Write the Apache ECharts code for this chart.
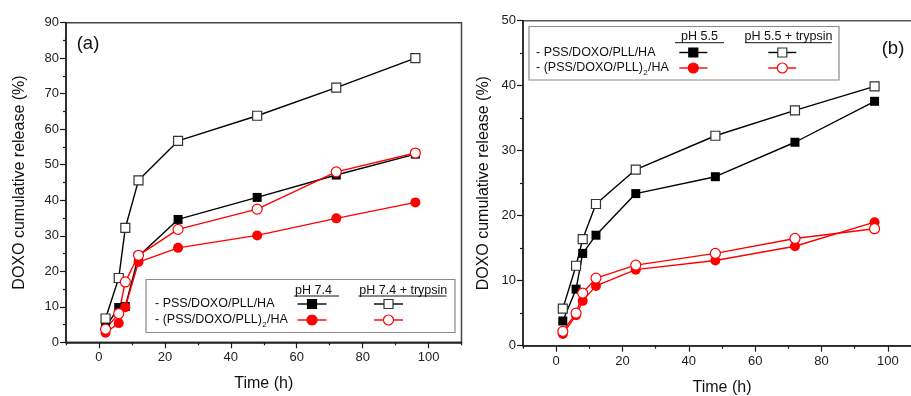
<!DOCTYPE html>
<html>
<head>
<meta charset="utf-8">
<script src="https://cdn.jsdelivr.net/npm/echarts@6/dist/echarts.min.js"></script>
<style>
html,body{margin:0;padding:0;background:#fff;}
#chart{width:911px;height:396px;}
</style>
</head>
<body>
<div id="chart"></div>
<script>
// ---------- DATA ----------
var timeH = [2, 6, 8, 12, 24, 48, 72, 96];

// (a) pH 7.4
var aSingle74      = [4.3, 9.8, 10.1, 24.2, 34.6, 40.8, 47.1, 53.0];
var aSingle74Tryp  = [6.7, 18.1, 32.2, 45.6, 56.7, 63.8, 71.7, 80.0];
var aDouble74      = [2.7, 5.4, 9.9, 22.6, 26.6, 30.1, 34.9, 39.4];
var aDouble74Tryp  = [3.7, 8.1, 17.0, 24.5, 31.8, 37.5, 48.0, 53.3];

// (b) pH 5.5
var bSingle55      = [3.8, 8.7, 14.2, 17.0, 23.4, 26.0, 31.3, 37.6];
var bSingle55Tryp  = [5.7, 12.3, 16.4, 21.8, 27.1, 32.3, 36.2, 39.9];
var bDouble55      = [1.8, 4.7, 6.9, 9.2, 11.7, 13.1, 15.3, 19.0];
var bDouble55Tryp  = [2.2, 5.0, 8.1, 10.4, 12.4, 14.2, 16.5, 18.0];

var xTicks = [0, 20, 40, 60, 80, 100];
var yTicksA = [0, 10, 20, 30, 40, 50, 60, 70, 80, 90];
var yTicksB = [0, 10, 20, 30, 40, 50];

var seriesNames = ['- PSS/DOXO/PLL/HA', '- (PSS/DOXO/PLL)', '2', '/HA'];
var headersA = ['pH 7.4', 'pH 7.4 + trypsin'];
var headersB = ['pH 5.5', 'pH 5.5 + trypsin'];
var panelLabels = ['(a)', '(b)'];
var xTitle = 'Time (h)';
var yTitle = 'DOXO cumulative release (%)';

// ---------- HELPERS ----------
var FONT = '"Liberation Sans", Arial, sans-serif';
var AX = '#1a1a1a';
var RED = '#ff0000';

function pairs(ys){ return timeH.map(function(t,i){ return [t, ys[i]]; }); }

var measureCtx = document.createElement('canvas').getContext('2d');
function textW(str, size){ measureCtx.font = size + 'px ' + FONT; return measureCtx.measureText(str).width; }

function mkSeries(name, ys, xi, yi, kind){
  var filled = kind.filled, color = kind.color, sym = kind.sym;
  return {
    type: 'line', name: name, xAxisIndex: xi, yAxisIndex: yi,
    data: pairs(ys), symbol: sym, symbolSize: sym === 'rect' ? 9 : 10,
    lineStyle: { color: color, width: 1.4 },
    itemStyle: filled ? { color: color, borderColor: color, borderWidth: 0 }
                      : { color: '#fff', borderColor: color === RED ? RED : '#333', borderWidth: 1.2 },
    emphasis: { disabled: true }, animation: false, z: 3
  };
}

function xAxesFor(gi, gap){
  return [
    { type:'value', gridIndex: gi, position:'bottom', min:-10, max:110, interval:20,
      axisLine:{ show:true, onZero:false, lineStyle:{ color:AX, width:1.5 } },
      axisTick:{ show:true, inside:false, length:3, lineStyle:{ color:AX, width:1.2 } },
      minorTick:{ show:true, splitNumber:2, length:6, lineStyle:{ color:AX, width:1.2 } },
      axisLabel:{ show:false }, splitLine:{ show:false }, minorSplitLine:{ show:false },
      name: xTitle, nameLocation:'middle', nameGap: gap,
      nameTextStyle:{ fontFamily: FONT, fontSize: 16, color: '#111' } },
    { type:'value', gridIndex: gi, position:'bottom', min:-10, max:110, interval:10,
      axisLine:{ show:false, onZero:false }, axisTick:{ show:false }, splitLine:{ show:false },
      axisLabel:{ show:true, margin: 9, fontFamily: FONT, fontSize: 13, color: '#222',
        formatter: function(v){ return xTicks.indexOf(v) >= 0 ? String(v) : ''; } } }
  ];
}

function yAxisFor(gi, max, ticks, gap){
  return { type:'value', gridIndex: gi, min: ticks[0], max: max, interval: ticks[1]-ticks[0],
    axisLine:{ show:true, onZero:false, lineStyle:{ color:AX, width:1.5 } },
    axisTick:{ show:true, inside:false, length:6, lineStyle:{ color:AX, width:1.2 } },
    minorTick:{ show:true, splitNumber:2, length:3, lineStyle:{ color:AX, width:1.2 } },
    axisLabel:{ margin: 7, fontFamily: FONT, fontSize: 13, color:'#222' },
    splitLine:{ show:false },
    name: yTitle, nameLocation:'middle', nameGap: gap, nameRotate: 90,
    nameTextStyle:{ fontFamily: FONT, fontSize: 16, color:'#111' } };
}

// legend builder (positions only, labels come from arrays)
function legendGraphics(L, headers){
  var g = [];
  var fs = 12.5;
  g.push({ type:'rect', shape:{ x:L.box[0], y:L.box[1], width:L.box[2]-L.box[0], height:L.box[3]-L.box[1] },
           style:{ fill:'#fff', stroke:'#8a8a8a', lineWidth:1.2 }, z: 10 });
  [0,1].forEach(function(k){
    g.push({ type:'text', x:L.hx[k], y:L.hy, z: 11,
      style:{ text: headers[k], font: fs + 'px ' + FONT, fill:'#111', textAlign:'center', textVerticalAlign:'middle' } });
    g.push({ type:'line', shape:{ x1:L.ul[k][0], y1:L.uy, x2:L.ul[k][1], y2:L.uy }, z: 11,
      style:{ stroke:'#111', lineWidth:1 } });
  });
  g.push({ type:'text', x:L.tx, y:L.ry[0], z: 11,
    style:{ text: seriesNames[0], font: fs + 'px ' + FONT, fill:'#111', textAlign:'left', textVerticalAlign:'middle' } });
  var w1 = textW(seriesNames[1], fs);
  g.push({ type:'text', x:L.tx, y:L.ry[1], z: 11,
    style:{ text: seriesNames[1], font: fs + 'px ' + FONT, fill:'#111', textAlign:'left', textVerticalAlign:'middle' } });
  g.push({ type:'text', x:L.tx + w1 + 0.3, y:L.ry[1] + 4.5, z: 11,
    style:{ text: seriesNames[2], font: '8px ' + FONT, fill:'#111', textAlign:'left', textVerticalAlign:'middle' } });
  g.push({ type:'text', x:L.tx + w1 + 5, y:L.ry[1], z: 11,
    style:{ text: seriesNames[3], font: fs + 'px ' + FONT, fill:'#111', textAlign:'left', textVerticalAlign:'middle' } });
  var kinds = [[{c:'#000',f:true,s:'rect'},{c:'#000',f:false,s:'rect'}],
               [{c:RED,f:true,s:'circle'},{c:RED,f:false,s:'circle'}]];
  [0,1].forEach(function(r){
    [0,1].forEach(function(k){
      var kd = kinds[r][k], cx = L.sx[k], cy = L.ry[r];
      g.push({ type:'line', shape:{ x1:cx - L.half, y1:cy, x2:cx + L.half, y2:cy }, z: 11,
        style:{ stroke: kd.c, lineWidth: 1.4 } });
      if (kd.s === 'rect') {
        g.push({ type:'rect', shape:{ x:cx-4.5, y:cy-4.5, width:9, height:9 }, z: 12,
          style:{ fill: kd.f ? kd.c : '#fff', stroke: kd.f ? kd.c : '#333', lineWidth: 1.2 } });
      } else {
        g.push({ type:'circle', shape:{ cx:cx, cy:cy, r:5 }, z: 12,
          style:{ fill: kd.f ? kd.c : '#fff', stroke: kd.c, lineWidth: 1.2 } });
      }
    });
  });
  return g;
}

var legA = { box:[146, 279.5, 455, 332.5], hx:[313.5, 403.3], hy:290.5, uy:296, ul:[[294,339],[358.5,446.5]],
             tx:155, ry:[304, 320], sx:[312, 388.5], half:14.5 };
var legB = { box:[529, 26.5, 839, 80], hx:[699.5, 788.5], hy:37, uy:42.7, ul:[[675,724],[745,831.7]],
             tx:536, ry:[52.5, 68], sx:[693.3, 782.3], half:14 };

var chart = echarts.init(document.getElementById('chart'), null, { renderer:'canvas' });

var option = {
  animation: false,
  backgroundColor: '#fff',
  textStyle: { fontFamily: FONT },
  grid: [
    { left: 66, top: 22.7, width: 395.5, height: 319.6, show: true, borderColor: '#444', borderWidth: 1.5,
      backgroundColor: 'transparent', containLabel: false, outerBoundsMode: 'none' },
    { left: 523, top: 20.7, width: 398, height: 325, show: true, borderColor: '#555', borderWidth: 1.5,
      backgroundColor: 'transparent', containLabel: false, outerBoundsMode: 'none' }
  ],
  xAxis: xAxesFor(0, 33).concat(xAxesFor(1, 34)),
  yAxis: [ yAxisFor(0, 90, yTicksA, 38), yAxisFor(1, 50, yTicksB, 31) ],
  series: [
    mkSeries('a1', aSingle74, 0, 0, { color:'#000', filled:true, sym:'rect' }),
    mkSeries('a2', aSingle74Tryp, 0, 0, { color:'#000', filled:false, sym:'rect' }),
    mkSeries('a3', aDouble74, 0, 0, { color:RED, filled:true, sym:'circle' }),
    mkSeries('a4', aDouble74Tryp, 0, 0, { color:RED, filled:false, sym:'circle' }),
    mkSeries('b1', bSingle55, 2, 1, { color:'#000', filled:true, sym:'rect' }),
    mkSeries('b2', bSingle55Tryp, 2, 1, { color:'#000', filled:false, sym:'rect' }),
    mkSeries('b3', bDouble55, 2, 1, { color:RED, filled:true, sym:'circle' }),
    mkSeries('b4', bDouble55Tryp, 2, 1, { color:RED, filled:false, sym:'circle' })
  ],
  graphic: [
    { type:'text', x:88, y:43.5, z:11, style:{ text: panelLabels[0], font:'18.5px ' + FONT, fill:'#111', textAlign:'center', textVerticalAlign:'middle' } },
    { type:'text', x:893, y:48.5, z:11, style:{ text: panelLabels[1], font:'18.5px ' + FONT, fill:'#111', textAlign:'center', textVerticalAlign:'middle' } }
  ].concat(legendGraphics(legA, headersA)).concat(legendGraphics(legB, headersB))
};
chart.setOption(option);
</script>
</body>
</html>
